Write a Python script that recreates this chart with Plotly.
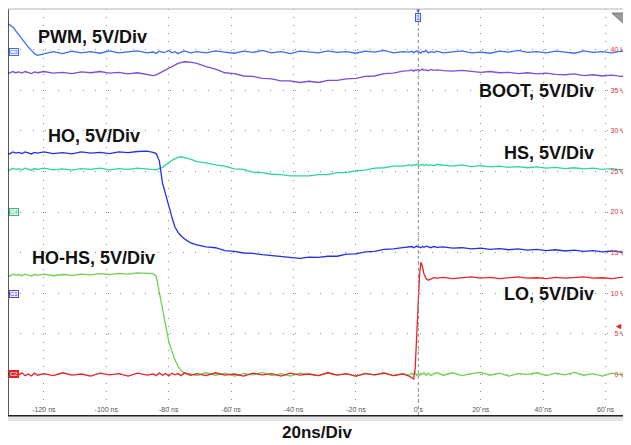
import plotly.graph_objects as go

# sample times (ns) shared by all channels
t_ns = [-132, -131, -130, -129, -128, -127, -126, -125, -124, -123, -122,
        -120, -117, -114, -111, -108, -105, -102, -99, -96, -93, -90, -87,
        -85, -84, -83, -82, -81, -80, -79, -78, -77, -76, -75,
        -73, -71,
        -68, -65, -62, -59, -56, -53, -50, -47, -44, -41, -38, -35, -32, -29, -26, -23, -20, -17, -14, -11, -8, -5,
        -3, -2, -1.5, -1, -0.5, 0, 0.4, 0.8, 1.3, 1.8, 2.5, 3.2, 4, 5, 6,
        8, 11, 14, 17, 20, 23, 26, 29, 32, 35, 38, 41, 44, 47, 50, 53, 56, 59, 62, 65, 68]

# screen level of each channel, in volts of the 5V/Div grid
pwm = [43.3, 43.1, 42.8, 42.3, 41.8, 41.2, 40.8, 40.3, 39.9, 39.5, 39.3,
       39.5, 39.75, 39.5, 39.8, 39.6, 39.75, 39.55, 39.85, 39.6, 39.7, 39.85, 39.6,
       39.7, 39.55, 39.8, 39.65, 39.7, 39.9, 39.6, 39.75, 39.5, 39.7, 39.85,
       39.6, 39.75,
       39.6, 39.85, 39.7, 39.55, 39.8, 39.65, 39.9, 39.6, 39.75, 39.5, 39.8, 39.7, 39.6, 39.85, 39.65, 39.75, 39.55, 39.8, 39.7, 39.9, 39.6, 39.75,
       39.7, 39.8, 39.6, 39.75, 39.85, 39.65, 39.7, 39.55, 39.8, 39.7, 39.9, 39.6, 39.75, 39.65, 39.8,
       39.6, 39.75, 39.85, 39.6, 39.7, 39.55, 39.8, 39.7, 39.9, 39.65, 39.75, 39.6, 39.8, 39.7, 39.55, 39.85, 39.65, 39.75, 39.6, 39.8, 39.7]

boot = [37.2, 37.1, 37.3, 37.15, 37.25, 37.1, 37.3, 37.2, 37.05, 37.25, 37.15,
        37.3, 37.1, 37.2, 37.05, 37.25, 37.15, 37.3, 37.1, 37.2, 37.0, 37.15, 36.9,
        36.8, 36.9, 37.1, 37.3, 37.5, 37.75, 37.95, 38.15, 38.3, 38.4, 38.5,
        38.45, 38.3,
        37.9, 37.6, 37.15, 37.05, 36.75, 36.7, 36.45, 36.4, 36.15, 36.15, 35.95, 36.1, 35.95, 36.2, 36.2, 36.4, 36.45, 36.7, 36.75, 37.05, 37.1, 37.35,
        37.4, 37.5, 37.35, 37.5, 37.45, 37.55, 37.4, 37.5, 37.6, 37.45, 37.5, 37.4, 37.55, 37.45, 37.5,
        37.4, 37.35, 37.45, 37.3, 37.2, 37.3, 37.15, 37.2, 37.05, 37.15, 37.0, 37.1, 36.95, 36.9, 37.0, 36.8, 36.9, 36.75, 36.85, 36.7, 36.8]

ho = [27.3, 27.15, 27.4, 27.25, 27.35, 27.2, 27.4, 27.3, 27.15, 27.35, 27.25,
      27.4, 27.2, 27.3, 27.15, 27.4, 27.25, 27.35, 27.2, 27.4, 27.3, 27.45, 27.5,
      27.35, 27.2, 26.3, 23.6, 22.2, 20.7, 19.4, 18.15, 17.5, 17.05, 16.7,
      16.2, 15.95,
      15.7, 15.6, 15.25, 15.15, 14.95, 14.9, 14.75, 14.65, 14.5, 14.45, 14.3, 14.45, 14.4, 14.55, 14.55, 14.8, 14.85, 15.1, 15.15, 15.4, 15.45, 15.6,
      15.65, 15.75, 15.6, 15.7, 15.8, 15.65, 15.7, 15.6, 15.75, 15.65, 15.8, 15.7, 15.6, 15.75, 15.65,
      15.7, 15.55, 15.6, 15.45, 15.55, 15.4, 15.5, 15.35, 15.45, 15.3, 15.4, 15.25, 15.35, 15.2, 15.3, 15.15, 15.25, 15.1, 15.2, 15.05, 15.1]

hs = [25.3, 25.15, 25.4, 25.25, 25.35, 25.2, 25.4, 25.3, 25.15, 25.35, 25.25,
      25.4, 25.2, 25.3, 25.15, 25.35, 25.25, 25.4, 25.2, 25.35, 25.25, 25.4, 25.3,
      25.3, 25.2, 25.35, 25.5, 25.8, 26.1, 26.35, 26.55, 26.75, 26.8, 26.7,
      26.5, 26.2,
      26.05, 25.8, 25.65, 25.3, 25.25, 24.9, 24.85, 24.65, 24.6, 24.45, 24.45, 24.45, 24.6, 24.6, 24.85, 24.85, 25.1, 25.15, 25.4, 25.45, 25.65, 25.65,
      25.8, 25.7, 25.85, 25.75, 25.9, 25.7, 25.8, 25.75, 25.9, 25.7, 25.85, 25.75, 25.8, 25.7, 25.85,
      25.75, 25.65, 25.8, 25.6, 25.7, 25.55, 25.65, 25.5, 25.6, 25.45, 25.55, 25.4, 25.5, 25.35, 25.45, 25.3, 25.4, 25.25, 25.35, 25.2, 25.3]

ho_hs = [12.25, 12.1, 12.35, 12.2, 12.3, 12.15, 12.35, 12.25, 12.1, 12.3, 12.2,
         12.35, 12.15, 12.3, 12.2, 12.35, 12.25, 12.4, 12.3, 12.45, 12.35, 12.5, 12.45,
         12.4, 12.1, 10.2, 8.2, 6.0, 4.1, 2.9, 1.8, 1.0, 0.45, 0.15,
         0.05, -0.15,
         0.2, -0.1, 0.15, -0.2, 0.1, -0.05, 0.25, -0.15, 0.1, -0.2, 0.15, 0.0, -0.15, 0.2, -0.1, 0.1, -0.25, 0.15, -0.05, 0.2, -0.15, 0.1,
         -0.1, 0.15, -0.05, 0.2, -0.15, 0.1, -0.2, 0.15, 0.0, 0.2, -0.1, 0.15, -0.15, 0.1, 0.2,
         -0.1, 0.2, -0.15, 0.1, 0.25, -0.1, 0.15, -0.2, 0.1, 0.0, 0.2, -0.15, 0.15, -0.05, 0.25, -0.1, 0.1, -0.2, 0.15, -0.05, 0.2]

lo = [-0.1, 0.15, -0.2, 0.1, -0.05, 0.2, -0.15, 0.05, -0.2, 0.15, -0.1,
      0.1, -0.15, 0.2, -0.1, 0.05, -0.2, 0.15, -0.05, 0.1, -0.2, 0.15, -0.1,
      0.05, -0.15, 0.2, -0.1, 0.1, -0.2, 0.15, -0.05, 0.1, -0.15, 0.2,
      -0.1, 0.1,
      -0.15, 0.2, -0.1, 0.05, -0.2, 0.15, -0.05, 0.1, -0.2, 0.15, -0.1, 0.05, -0.15, 0.2, -0.1, 0.1, -0.2, 0.1, -0.05, 0.15, -0.15, 0.05,
      -0.2, -0.45, -0.55, 0.8, 5.0, 9.2, 12.3, 13.8, 13.3, 12.4, 11.8, 11.6, 11.75, 11.9, 11.85,
      11.95, 11.8, 11.9, 12.0, 11.85, 11.95, 11.8, 11.9, 12.0, 11.85, 11.9, 11.8, 11.95, 11.85, 11.9, 12.0, 11.85, 11.9, 11.8, 11.95, 11.9]

for s in (pwm, boot, ho, hs, ho_hs, lo):
    assert len(s) == len(t_ns), len(s)

# grid ticks
time_ticks = [-120, -100, -80, -60, -40, -20, 0, 20, 40, 60]
time_labels = ["-120 ns", "-100 ns", "-80 ns", "-60 ns", "-40 ns", "-20 ns", "0 s", "20 ns", "40 ns", "60 ns"]
volt_ticks = [0, 5, 10, 15, 20, 25, 30, 35, 40]
volt_labels = ["0 V", "5 V", "10 V", "15 V", "20 V", "25 V", "30 V", "35 V", "40 V"]

# channel name, data, colour, label position (ns, V), anchor
channels = [
    ("PWM, 5V/Div", pwm, "#3a6df5", -122.6, 41.6, "left"),
    ("BOOT, 5V/Div", boot, "#7a4fd6", 56.9, 34.9, "right"),
    ("HS, 5V/Div", hs, "#2fd3a0", 56.9, 27.3, "right"),
    ("HO, 5V/Div", ho, "#2430e0", -119.4, 29.3, "left"),
    ("HO-HS, 5V/Div", ho_hs, "#6fd04f", -124.5, 14.3, "left"),
    ("LO, 5V/Div", lo, "#e8232a", 56.9, 9.9, "right"),
]

fig = go.Figure()
for name, vals, color, lx, ly, anchor in channels:
    fig.add_trace(go.Scatter(x=t_ns, y=vals, mode="lines", name=name,
                             line=dict(color=color, width=1.3)))

font_family = "Arial, Liberation Sans, sans-serif"
annotations = []
for name, vals, color, lx, ly, anchor in channels:
    annotations.append(dict(x=lx, y=ly, xref="x", yref="y", text="<b>%s</b>" % name,
                            showarrow=False, xanchor=anchor, yanchor="middle",
                            font=dict(family=font_family, size=18, color="#111111")))

# channel ground markers on the left edge
markers = [("C3", 39.7, "#3a6df5", "#eef3ff", "#3a6df5"),
           ("C4", 20.0, "#2fbf80", "#effaf4", "#2fbf80"),
           ("C1", 9.9, "#5a45d0", "#f1eeff", "#5a45d0"),
           ("C2", 0.0, "#dd2222", "#e8232a", "#ffffff")]
for txt, lvl, bc, bg, fc in markers:
    annotations.append(dict(x=0.002, y=lvl, xref="paper", yref="y", text=txt,
                            showarrow=False, xanchor="left", yanchor="middle",
                            bordercolor=bc, borderwidth=1, borderpad=0, bgcolor=bg,
                            font=dict(family=font_family, size=6, color=fc)))

# trigger marker at top
annotations.append(dict(x=0, y=43.95, xref="x", yref="y", text="1", showarrow=False,
                        xanchor="center", yanchor="middle", bordercolor="#3a5fe0",
                        borderwidth=1, borderpad=0, bgcolor="#dfe7ff",
                        font=dict(family=font_family, size=7, color="#3a5fe0")))
annotations.append(dict(x=0, y=44.75, xref="x", yref="y", text="▼", showarrow=False,
                        xanchor="center", yanchor="middle",
                        font=dict(family=font_family, size=6, color="#3a5fe0")))
# trigger level arrow on the right
annotations.append(dict(x=0.985, y=6.0, xref="paper", yref="y", text="◄", showarrow=False,
                        xanchor="center", yanchor="middle",
                        font=dict(family=font_family, size=9, color="#e8232a")))

annotations.append(dict(x=0.4976, y=-0.042, xref="paper", yref="paper", text="<b>20ns/Div</b>",
                        showarrow=False, xanchor="center", yanchor="middle",
                        font=dict(family=font_family, size=17, color="#111111")))

shapes = [
    # trigger time line
    dict(type="line", xref="x", yref="paper", x0=0, x1=0, y0=0, y1=1,
         line=dict(color="#8a8a8a", width=1, dash="dot")),
    # left frame edge
    dict(type="line", xref="paper", yref="paper", x0=0, x1=0, y0=0, y1=1,
         line=dict(color="#222222", width=1.5)),
    # top frame edge
    dict(type="line", xref="paper", yref="paper", x0=0, x1=1, y0=1, y1=1,
         line=dict(color="#b5b5b5", width=1)),
    # status strip under the screen
    dict(type="rect", xref="paper", yref="paper", x0=0, x1=1, y0=-0.0145, y1=-0.004,
         fillcolor="#e4e4e4", line=dict(width=0)),
    # corner icon
    dict(type="path", xref="paper", yref="paper",
         path="M 0.974,0.990 L 0.995,0.990 L 0.995,0.961 Z",
         fillcolor="#9a9a9a", line=dict(color="#777777", width=1)),
]

# the page body adds an 8px offset, so the figure is sized to end at the window edge
fig.update_layout(
    width=623, height=437,
    margin=dict(l=0, r=3, t=1, b=30),
    paper_bgcolor="white", plot_bgcolor="white",
    showlegend=False,
    annotations=annotations,
    shapes=shapes,
    xaxis=dict(range=[-131.5, 67.2], tickvals=time_ticks, ticktext=time_labels,
               ticklabelposition="inside", ticks="", showgrid=True,
               gridcolor="#8c8c8c", gridwidth=1, griddash="1px,7.12px",
               zeroline=False, showline=True, linecolor="#222222", linewidth=2,
               tickfont=dict(family=font_family, size=7, color="#555555")),
    yaxis=dict(range=[-5, 45], tickvals=volt_ticks, ticktext=volt_labels,
               side="right", ticklabelposition="inside", ticks="", showgrid=True,
               gridcolor="#8c8c8c", gridwidth=1, griddash="1px,11.48px",
               zeroline=False, showline=False,
               tickfont=dict(family=font_family, size=7, color="#e03030")),
)

fig.write_html("out.html")
